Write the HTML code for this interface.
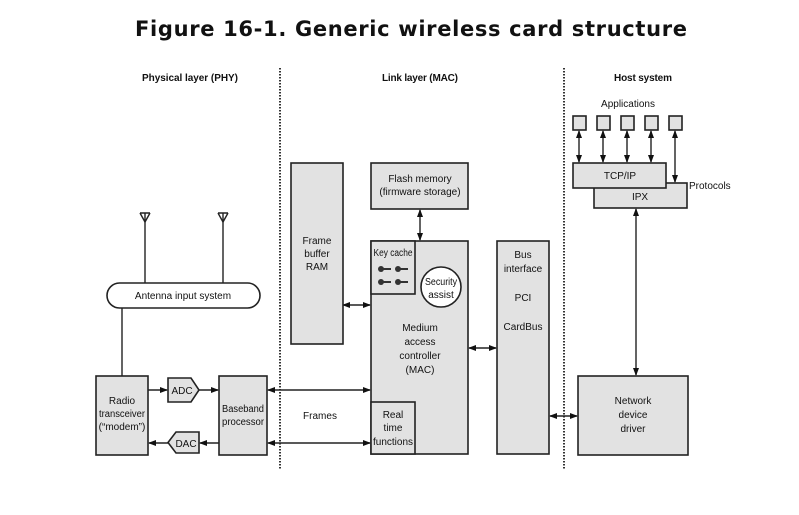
<!DOCTYPE html>
<html><head><style>
body{margin:0;background:#fff}
svg{display:block}
text{font-family:"Liberation Sans",sans-serif;font-size:10px;fill:#111}
.b{fill:#e2e2e2;stroke:#222;stroke-width:1.6}
.l{stroke:#222;stroke-width:1.4;fill:none}
</style></head><body>
<svg width="799" height="515" viewBox="0 0 799 515">
<defs>
<marker id="a" markerWidth="8" markerHeight="8" refX="7" refY="4" orient="auto-start-reverse" markerUnits="userSpaceOnUse"><path d="M0,1 L8,4 L0,7z" fill="#111"/></marker>
</defs>
<rect width="799" height="515" fill="#fff"/>
<text x="411" y="36" text-anchor="middle" style="font-family:'DejaVu Sans',sans-serif;font-weight:bold;font-size:21px" textLength="552">Figure 16-1. Generic wireless card structure</text>
<text x="190" y="81" text-anchor="middle" font-size="11" font-weight="bold" textLength="96">Physical layer (PHY)</text>
<text x="420" y="81" text-anchor="middle" font-size="11" font-weight="bold" textLength="76">Link layer (MAC)</text>
<text x="643" y="81" text-anchor="middle" font-size="11" font-weight="bold" textLength="58">Host system</text>
<line x1="280" y1="68" x2="280" y2="470" stroke="#333" stroke-width="2" stroke-dasharray="1.5,1.5"/>
<line x1="564" y1="68" x2="564" y2="470" stroke="#333" stroke-width="2" stroke-dasharray="1.5,1.5"/>
<g class="l">
<line x1="145" y1="213" x2="145" y2="283"/><path d="M140,213 L150,213 M140,213 L145,222 L150,213"/>
<line x1="223" y1="213" x2="223" y2="283"/><path d="M218,213 L228,213 M218,213 L223,222 L228,213"/>
<line x1="122" y1="308" x2="122" y2="376"/>
</g>
<rect x="107" y="283" width="153" height="25" rx="12.5" fill="#fff" stroke="#222" stroke-width="1.6"/>
<text x="183" y="299" text-anchor="middle">Antenna input system</text>
<rect class="b" x="96" y="376" width="52" height="79"/>
<text x="122" y="404" text-anchor="middle">Radio</text><text x="122" y="417" text-anchor="middle" textLength="46" lengthAdjust="spacingAndGlyphs">transceiver</text><text x="122" y="430" text-anchor="middle">(“modem”)</text>
<path class="b" d="M168,378 L191,378 L199,390 L191,402 L168,402z"/>
<text x="182" y="394" text-anchor="middle">ADC</text>
<path class="b" d="M176,432 L199,432 L199,453 L176,453 L168,442.5z"/>
<text x="186" y="447" text-anchor="middle">DAC</text>
<rect class="b" x="219" y="376" width="48" height="79"/>
<text x="243" y="412" text-anchor="middle" textLength="42" lengthAdjust="spacingAndGlyphs">Baseband</text><text x="243" y="425" text-anchor="middle" textLength="42" lengthAdjust="spacingAndGlyphs">processor</text>
<g class="l">
<line x1="148" y1="390" x2="167" y2="390" marker-end="url(#a)"/>
<line x1="199" y1="390" x2="218" y2="390" marker-end="url(#a)"/>
<line x1="219" y1="443" x2="200" y2="443" marker-end="url(#a)"/>
<line x1="168" y1="443" x2="149" y2="443" marker-end="url(#a)"/>
<line x1="268" y1="390" x2="370" y2="390" marker-start="url(#a)" marker-end="url(#a)"/>
<line x1="268" y1="443" x2="370" y2="443" marker-start="url(#a)" marker-end="url(#a)"/>
<line x1="343" y1="305" x2="370" y2="305" marker-start="url(#a)" marker-end="url(#a)"/>
<line x1="420" y1="210" x2="420" y2="240" marker-start="url(#a)" marker-end="url(#a)"/>
<line x1="469" y1="348" x2="496" y2="348" marker-start="url(#a)" marker-end="url(#a)"/>
<line x1="550" y1="416" x2="577" y2="416" marker-start="url(#a)" marker-end="url(#a)"/>
<line x1="636" y1="209" x2="636" y2="375" marker-start="url(#a)" marker-end="url(#a)"/>
</g>
<text x="320" y="419" text-anchor="middle">Frames</text>
<rect class="b" x="291" y="163" width="52" height="181"/>
<text x="317" y="244" text-anchor="middle">Frame</text><text x="317" y="257" text-anchor="middle">buffer</text><text x="317" y="270" text-anchor="middle">RAM</text>
<rect class="b" x="371" y="163" width="97" height="46"/>
<text x="420" y="182" text-anchor="middle">Flash memory</text><text x="420" y="195" text-anchor="middle">(firmware storage)</text>
<rect class="b" x="371" y="241" width="97" height="213"/>
<rect class="b" x="371" y="241" width="44" height="53"/>
<text x="393" y="256" text-anchor="middle" textLength="39" lengthAdjust="spacingAndGlyphs">Key cache</text>
<g fill="#333"><circle cx="381" cy="269" r="3"/><rect x="381" y="268" width="10" height="2"/><circle cx="398" cy="269" r="3"/><rect x="398" y="268" width="10" height="2"/>
<circle cx="381" cy="282" r="3"/><rect x="381" y="281" width="10" height="2"/><circle cx="398" cy="282" r="3"/><rect x="398" y="281" width="10" height="2"/></g>
<circle cx="441" cy="287" r="20" fill="#fff" stroke="#222" stroke-width="1.6"/>
<text x="441" y="285" text-anchor="middle" textLength="32" lengthAdjust="spacingAndGlyphs">Security</text><text x="441" y="298" text-anchor="middle">assist</text>
<text x="420" y="331" text-anchor="middle">Medium</text><text x="420" y="345" text-anchor="middle">access</text><text x="420" y="359" text-anchor="middle">controller</text><text x="420" y="373" text-anchor="middle">(MAC)</text>
<rect class="b" x="371" y="402" width="44" height="52"/>
<text x="393" y="418" text-anchor="middle">Real</text><text x="393" y="431" text-anchor="middle">time</text><text x="393" y="445" text-anchor="middle" textLength="40" lengthAdjust="spacingAndGlyphs">functions</text>
<rect class="b" x="497" y="241" width="52" height="213"/>
<text x="523" y="258" text-anchor="middle">Bus</text><text x="523" y="272" text-anchor="middle">interface</text><text x="523" y="301" text-anchor="middle">PCI</text><text x="523" y="330" text-anchor="middle">CardBus</text>
<rect class="b" x="578" y="376" width="110" height="79"/>
<text x="633" y="404" text-anchor="middle">Network</text><text x="633" y="418" text-anchor="middle">device</text><text x="633" y="432" text-anchor="middle">driver</text>
<text x="628" y="107" text-anchor="middle">Applications</text>
<rect class="b" x="594" y="183" width="93" height="25"/>
<text x="640" y="200" text-anchor="middle">IPX</text>
<rect class="b" x="573" y="163" width="93" height="25"/>
<text x="620" y="179" text-anchor="middle">TCP/IP</text>
<text x="689" y="189">Protocols</text>
<g class="b">
<rect x="573" y="116" width="13" height="14"/><rect x="597" y="116" width="13" height="14"/><rect x="621" y="116" width="13" height="14"/><rect x="645" y="116" width="13" height="14"/><rect x="669" y="116" width="13" height="14"/>
</g>
<g class="l">
<line x1="579" y1="131" x2="579" y2="162" marker-start="url(#a)" marker-end="url(#a)"/>
<line x1="603" y1="131" x2="603" y2="162" marker-start="url(#a)" marker-end="url(#a)"/>
<line x1="627" y1="131" x2="627" y2="162" marker-start="url(#a)" marker-end="url(#a)"/>
<line x1="651" y1="131" x2="651" y2="162" marker-start="url(#a)" marker-end="url(#a)"/>
<line x1="675" y1="131" x2="675" y2="182" marker-start="url(#a)" marker-end="url(#a)"/>
</g>
</svg>
</body></html>
